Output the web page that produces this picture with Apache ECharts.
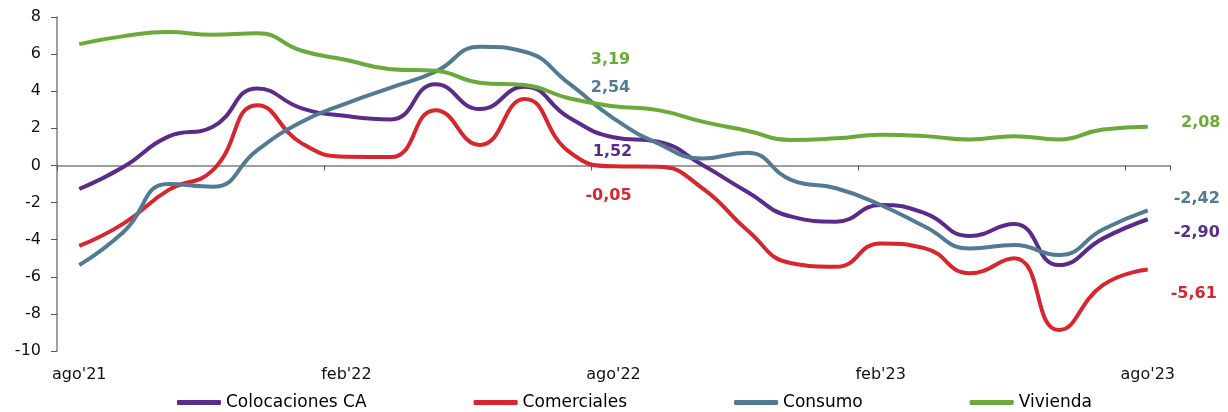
<!DOCTYPE html>
<html>
<head>
<meta charset="utf-8">
<script src="https://cdn.jsdelivr.net/npm/echarts@6/dist/echarts.min.js"></script>
<style>
html,body{margin:0;padding:0;background:#fff;}
#chart{width:1228px;height:412px;}
</style>
</head>
<body>
<div id="chart"></div>
<script>
const categories = ["ago'21","sep'21","oct'21","nov'21","dic'21","ene'22","feb'22","mar'22","abr'22","may'22","jun'22","jul'22","ago'22","sep'22","oct'22","nov'22","dic'22","ene'23","feb'23","mar'23","abr'23","may'23","jun'23","jul'23","ago'23"];
const colocacionesCA = [-1.27,-0.07,1.55,2.09,4.15,3.08,2.66,2.48,4.37,3.04,4.24,2.59,1.52,1.28,0.02,-1.42,-2.76,-3.03,-2.13,-2.58,-3.80,-3.16,-5.37,-3.93,-2.90];
const comerciales = [-4.34,-3.12,-1.33,-0.25,3.25,1.19,0.47,0.45,2.98,1.10,3.58,0.74,-0.05,-0.07,-1.23,-3.48,-5.27,-5.46,-4.20,-4.47,-5.81,-5.00,-8.87,-6.44,-5.61];
const consumo = [-5.37,-3.57,-1.00,-1.15,0.83,2.36,3.35,4.20,5.05,6.40,6.13,4.42,2.54,1.19,0.38,0.69,-0.79,-1.23,-2.13,-3.30,-4.47,-4.29,-4.83,-3.44,-2.42];
const vivienda = [6.54,6.97,7.19,7.04,7.12,6.18,5.68,5.19,5.10,4.46,4.33,3.62,3.19,2.98,2.36,1.87,1.37,1.46,1.65,1.58,1.40,1.58,1.40,1.94,2.08];
const seriesNames = ["Colocaciones CA","Comerciales","Consumo","Vivienda"];
const yTicks = {min:-10, max:8, interval:2};

const colors = ["#5b2b8a","#d7262e","#527b93","#6aaa3a"];
// label offsets (style): [index, dx, dy]
const labelCfg = [
  [[12,-1,15],[24,49,14]],
  [[12,-5,29],[24,46,24]],
  [[12,-3,-30],[24,49,-12]],
  [[12,-3,-46],[24,53,-4]]
];
const FONT = "DejaVu Sans";
function fmt(v){ return v.toFixed(2).replace('.', ','); }
function buildData(arr, si){
  return arr.map((v,i)=>{
    const c = labelCfg[si].find(e=>e[0]===i);
    if(!c) return v;
    return {value:v, label:{show:true, position:'inside', offset:[c[1],c[2]], formatter:fmt(v),
      color:colors[si], fontFamily:FONT, fontWeight:'bold', fontSize:16}};
  });
}
const allData = [colocacionesCA, comerciales, consumo, vivienda];

const chart = echarts.init(document.getElementById('chart'), null, {renderer:'canvas'});
chart.setOption({
  animation:false,
  grid:{left:57, right:58, top:17, bottom:61, containLabel:false},
  legend:{
    data:seriesNames, left:172, top:389, itemWidth:44, itemHeight:5, itemGap:107,
    icon:'roundRect',
    textStyle:{fontFamily:FONT, fontSize:17, color:'#000'}
  },
  xAxis:[
    {type:'category', data:categories, boundaryGap:true, position:'bottom',
     axisLine:{onZero:true, lineStyle:{color:'#7f7f7f', width:1.5}},
     axisTick:{show:true, interval:5, length:5, inside:false, lineStyle:{color:'#555'}},
     axisLabel:{show:false}, splitLine:{show:false}},
    {type:'category', data:categories, boundaryGap:true, position:'bottom',
     axisLine:{show:false, onZero:false}, axisTick:{show:false},
     axisLabel:{show:true, interval:5, margin:16, fontFamily:FONT, fontSize:16, color:'#111'},
     splitLine:{show:false}}
  ],
  yAxis:{type:'value', min:yTicks.min, max:yTicks.max, interval:yTicks.interval,
     axisLine:{show:true, lineStyle:{color:'#7f7f7f', width:1.5}},
     axisTick:{show:true, length:6, lineStyle:{color:'#555'}},
     axisLabel:{margin:16, fontFamily:FONT, fontSize:16, color:'#111'},
     splitLine:{show:false}},
  series: seriesNames.map((n,si)=>({
    name:n, type:'line', xAxisIndex:0, data:buildData(allData[si], si),
    smooth:0.5, symbol:'circle', symbolSize:0.1, showSymbol:true,
    lineStyle:{color:colors[si], width:4}, itemStyle:{color:colors[si]},
    label:{show:false}, emphasis:{disabled:true}
  }))
});
</script>
</body>
</html>
